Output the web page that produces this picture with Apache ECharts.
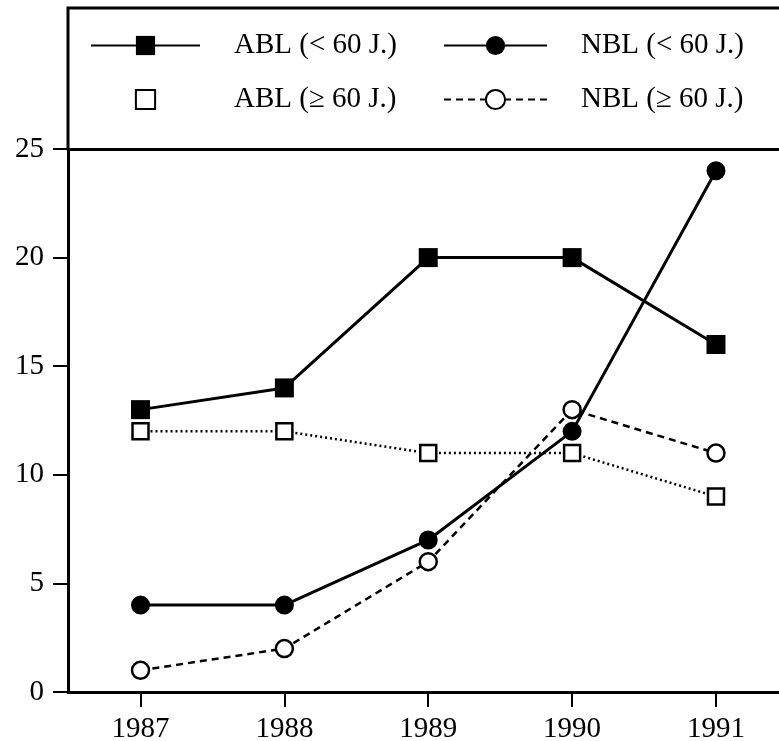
<!DOCTYPE html>
<html>
<head>
<meta charset="utf-8">
<script src="https://cdn.jsdelivr.net/npm/echarts@6/dist/echarts.min.js"></script>
<style>html,body{margin:0;padding:0;background:#fff;}#c{width:779px;height:741px;}</style>
</head>
<body>
<div id="c"></div>
<script>
const years = [1987, 1988, 1989, 1990, 1991];
const ablLow = [13, 14, 20, 20, 16];
const nblLow = [4, 4, 7, 12, 24];
const ablHigh = [12, 12, 11, 11, 9];
const nblHigh = [1, 2, 6, 13, 11];
const names = ['ABL (< 60 J.)', 'NBL (< 60 J.)', 'ABL (\u2265 60 J.)', 'NBL (\u2265 60 J.)'];
const yTicks = [0, 5, 10, 15, 20, 25];

const pairs = vals => years.map((y, i) => [y, vals[i]]);
const FONT = 'Liberation Serif';
const FS = 29;
const chart = echarts.init(document.getElementById('c'));
const legendBase = {
  selectedMode: false,
  orient: 'horizontal',
  padding: 0,
  itemHeight: 24,
  textStyle: {fontFamily: FONT, fontSize: FS, color: '#000', padding: [0, 0, 0, 29], lineHeight: 24}
};
chart.setOption({
  backgroundColor: '#fff',
  animation: false,
  grid: {left: 68, top: 149, right: 0, bottom: 49, outerBoundsMode: 'none', containLabel: false},
  legend: [
    Object.assign({}, legendBase, {left: 90, top: 31, itemWidth: 109, data: [names[0]]}),
    Object.assign({}, legendBase, {left: 443, top: 31, itemWidth: 103, data: [names[1]]}),
    Object.assign({}, legendBase, {left: 90, top: 85, itemWidth: 109, data: [{name: names[2], lineStyle: {opacity: 0}}]}),
    Object.assign({}, legendBase, {left: 443, top: 85, itemWidth: 103, data: [names[3]]})
  ],
  xAxis: [{
    type: 'value', min: 1986.496, max: 1991.438,
    axisLine: {lineStyle: {color: '#000', width: 3}},
    axisTick: {show: true, customValues: years, length: 15, lineStyle: {color: '#000', width: 2}},
    axisLabel: {customValues: years, formatter: v => String(v), fontFamily: FONT, fontSize: FS, color: '#000', margin: 23},
    splitLine: {show: false}
  }, {
    type: 'value', min: 1986.496, max: 1991.438, position: 'top',
    axisLine: {show: true, lineStyle: {color: '#000', width: 3}},
    axisTick: {show: false}, axisLabel: {show: false}, splitLine: {show: false}
  }],
  yAxis: {
    type: 'value', min: yTicks[0], max: yTicks[yTicks.length - 1], interval: 5,
    axisLine: {show: true, lineStyle: {color: '#000', width: 3}},
    axisTick: {show: true, length: 15, lineStyle: {color: '#000', width: 2}},
    axisLabel: {fontFamily: FONT, fontSize: FS, color: '#000', margin: 24},
    splitLine: {show: false}
  },
  graphic: [{
    type: 'polyline', shape: {points: [[68, 149], [68, 8], [779, 8]]},
    style: {stroke: '#000', lineWidth: 3, fill: null}
  }],
  series: [
    {name: names[2], type: 'line', data: pairs(ablHigh), symbol: 'rect', symbolSize: 16,
      lineStyle: {color: '#000', width: 2.5, type: [2, 3]},
      itemStyle: {color: '#fff', borderColor: '#000', borderWidth: 2.5}, z: 2},
    {name: names[3], type: 'line', data: pairs(nblHigh), symbol: 'circle', symbolSize: 17,
      lineStyle: {color: '#000', width: 2.5, type: [7, 5]},
      itemStyle: {color: '#fff', borderColor: '#000', borderWidth: 2.5}, z: 3},
    {name: names[0], type: 'line', data: pairs(ablLow), symbol: 'rect', symbolSize: 19,
      lineStyle: {color: '#000', width: 3},
      itemStyle: {color: '#000'}, z: 4},
    {name: names[1], type: 'line', data: pairs(nblLow), symbol: 'circle', symbolSize: 19,
      lineStyle: {color: '#000', width: 3},
      itemStyle: {color: '#000'}, z: 5}
  ]
});
</script>
</body>
</html>
